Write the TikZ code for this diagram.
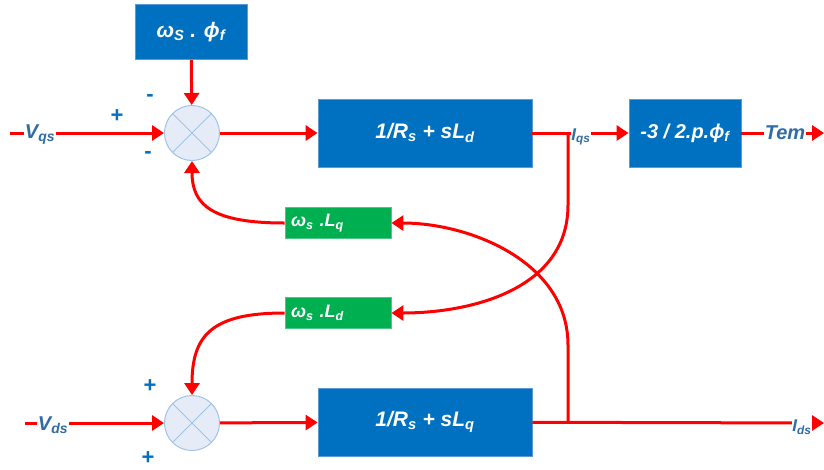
\documentclass[tikz,border=0pt]{standalone}
\usepackage{fontspec}
\setmainfont{Liberation Sans}
\usetikzlibrary{arrows.meta}
\definecolor{boxblue}{HTML}{0070C0}
\definecolor{boxedge}{HTML}{5B9BD5}
\definecolor{boxgreen}{HTML}{00B050}
\definecolor{sigred}{HTML}{FF0000}
\definecolor{lblblue}{HTML}{2F6DA3}
\definecolor{sumfill}{HTML}{E6ECF7}
\definecolor{sumedge}{HTML}{9DC3E6}
\newcommand\sbs[1]{\textsubscript{#1}}
\begin{document}
\begin{tikzpicture}[x=1pt,y=-1pt,
  blk/.style={fill=boxblue, draw=boxedge, line width=0.8pt, text=white,
    font=\bfseries\itshape\fontsize{21}{24}\selectfont, inner sep=0pt,
    minimum width=214pt, minimum height=68pt},
  gblk/.style={fill=boxgreen, draw=boxgreen!70!white, line width=0.8pt, text=white,
    font=\bfseries\itshape\fontsize{18}{21}\selectfont, inner xsep=6pt, inner ysep=0pt,
    text width=94pt, align=left, minimum height=31pt},
  sum/.style={circle, draw=sumedge, fill=sumfill, line width=1pt, minimum size=55pt, inner sep=0pt},
  sig/.style={draw=sigred, line width=3pt},
  arr/.style={sig, -{Triangle[length=12pt,width=15pt]}},
  lbl/.style={fill=white, text=lblblue, inner sep=1pt,
    font=\bfseries\itshape\fontsize{20}{24}\selectfont},
  sgn/.style={text=boxblue, inner sep=0pt, font=\bfseries\fontsize{22}{24}\selectfont}
]
\useasboundingbox (0,0) rectangle (824,469);

% blocks
\node[blk, minimum width=112pt, minimum height=55pt, font=\bfseries\itshape\fontsize{21}{24}\selectfont] (wf) at (191,32) {ω\sbs{S} . ϕ\sbs{f}};
\node[sum] (s1) at (192,133) {};
\node[blk] (b1) at (425,133) {1/R\sbs{s} + sL\sbs{d}};
\node[blk, minimum width=112pt, font=\bfseries\itshape\fontsize{20}{24}\selectfont] (b2) at (685,133) {-3 / 2.p.ϕ\sbs{f}};
\node[gblk] (gq) at (338,223) {ω\sbs{s} .L\sbs{q}};
\node[gblk] (gd) at (338,313) {ω\sbs{s} .L\sbs{d}};
\node[sum] (s2) at (192,423) {};
\node[blk] (b3) at (425,422) {1/R\sbs{s} + sL\sbs{q}};

% crosses in summing junctions
\draw[sumedge, line width=1pt] (s1.north west) -- (s1.south east) (s1.north east) -- (s1.south west);
\draw[sumedge, line width=1pt] (s2.north west) -- (s2.south east) (s2.north east) -- (s2.south west);

% free ends
\coordinate (vqin) at (10,133);
\coordinate (vdin) at (25,423);
\coordinate (temout) at (824,133);
\coordinate (idout) at (824,423);
\coordinate (jq) at (568,133);
\coordinate (jd) at (568,423);
\coordinate (jq2) at (568,205);
\coordinate (jd2) at (568,345);

% connectors
\draw[arr] (wf) -- (s1);
\draw[arr] (vqin) -- (s1.west);
\draw[arr] (s1) -- (b1);
\draw[arr] (b1) -- (b2);
\draw[arr] (b2) -- (temout);
\draw[arr] (vdin) -- (s2.west);
\draw[arr] (s2) -- (b3);
\draw[arr] (b3) -- (idout);
\draw[arr] (jq) -- (jq2) .. controls (568,290) and (470,313) .. (gd.east);
\draw[arr] (jd) -- (jd2) .. controls (568,262) and (470,223) .. (gq.east);
\draw[arr] (gq.west) .. controls (212,223) and (192,205) .. (s1.south);
\draw[arr] (gd.west) .. controls (212,313) and (192,335) .. (s2.north);

% labels
\node[lbl] (vq) at (40,135) {V\sbs{qs}};
\node[lbl] (vd) at (53,425) {V\sbs{ds}};
\node[lbl, font=\bfseries\itshape\fontsize{17}{20}\selectfont, inner sep=0pt] (iq) at (581,137) {I\sbs{qs}};
\node[lbl, font=\bfseries\itshape\fontsize{20}{24}\selectfont] (tem) at (785,133) {Tem};
\node[lbl, font=\bfseries\itshape\fontsize{17}{20}\selectfont, inner sep=0pt] (id) at (802,427) {I\sbs{ds}};

% signs
\node[sgn] (m1) at (150,98) {-};
\node[sgn] (p1) at (117,116) {+};
\node[sgn] (m2) at (148,155) {-};
\node[sgn] (p2) at (150,386) {+};
\node[sgn] (p3) at (148,458) {+};
\end{tikzpicture}
\end{document}
